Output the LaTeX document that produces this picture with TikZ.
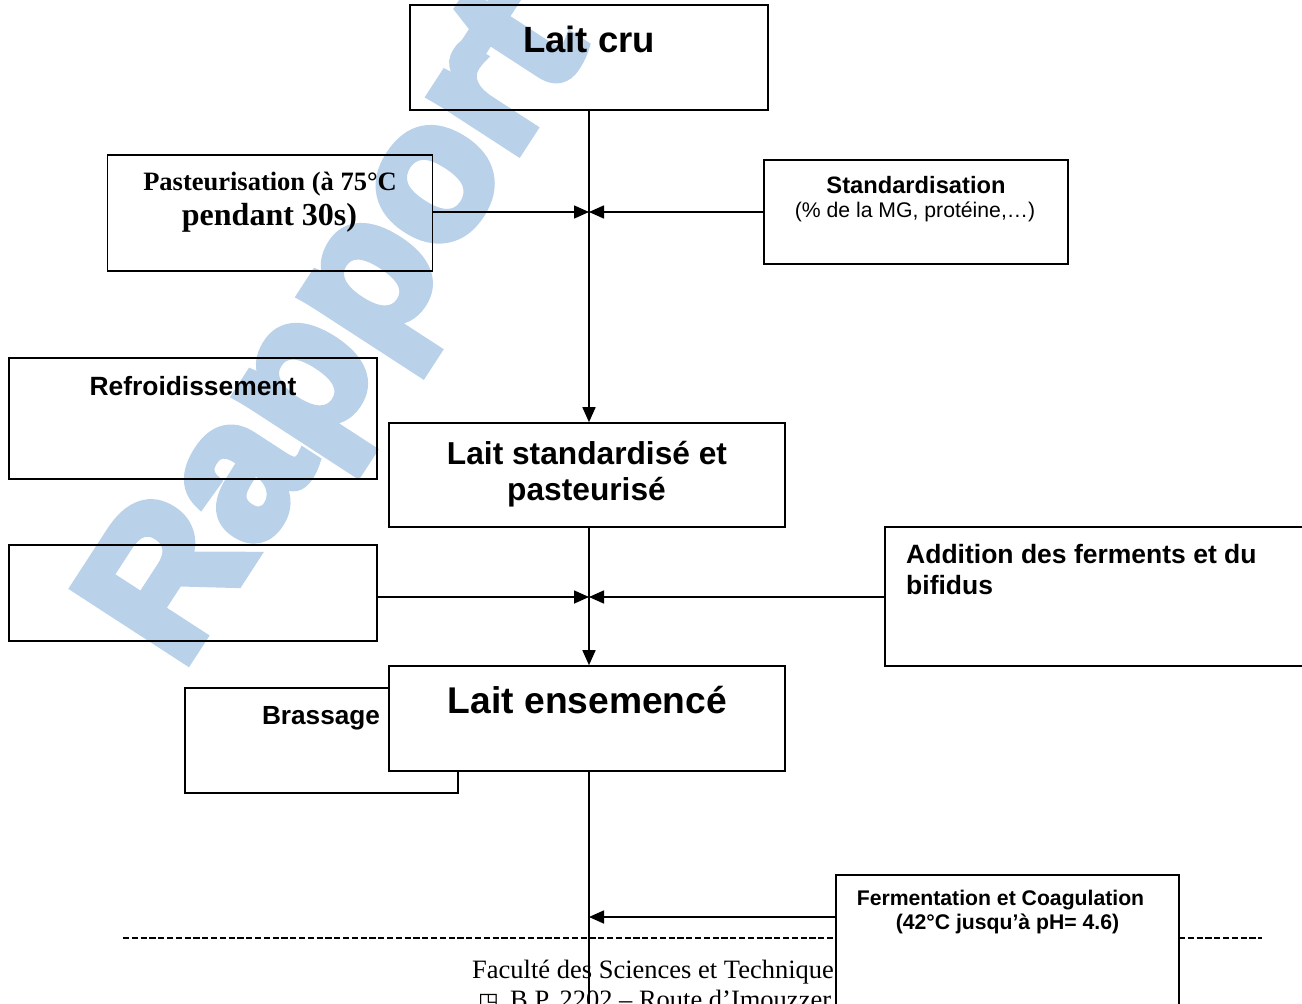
\documentclass[tikz,border=0pt]{standalone}
\usepackage{fontspec}
\setmainfont{Liberation Serif}
\setsansfont{Liberation Sans}
\newfontfamily\symbfont{DejaVu Sans}
\newfontfamily\wmfont{Liberation Sans}[BoldFeatures={FakeBold=5}]
\usetikzlibrary{arrows.meta}
\definecolor{filigrane}{RGB}{186,209,234}
\newcommand{\taille}[1]{\fontsize{#1}{#1}\selectfont}
\tikzset{
  boite/.style={draw, rectangle, line width=1.6pt, inner sep=0pt},
  txt/.style={inner sep=0pt, anchor=base, font=\sffamily\bfseries},
  fleche/.style={line width=1.6pt, -{Triangle[length=15pt,width=13pt]}},
  trait/.style={line width=1.6pt},
}
\begin{document}
\begin{tikzpicture}[x=1pt,y=-1pt]
      \useasboundingbox (0,0) rectangle (1302,1004);
      \clip (0,0) rectangle (1302,1004);
      \node[inner sep=0pt, anchor=base, rotate=57, text=filigrane,
        font=\wmfont\bfseries\taille{195}] (wm) at (384,358) {Rapport};
      \draw
        (589,57.5) node[boite, minimum width=358, minimum height=105] (cru){}
        (270,213) node[boite, minimum width=325, minimum height=116] (past){}
        (916,212) node[boite, minimum width=304, minimum height=104] (stdz){}
        (193,418.5) node[boite, minimum width=368, minimum height=121] (refr){}
        (587,475) node[boite, minimum width=396, minimum height=104] (std){}
        (193,593) node[boite, minimum width=368, minimum height=96] (vide){}
        (1102.5,596.5) node[boite, minimum width=435, minimum height=139] (add){}
        (321.5,740.5) node[boite, minimum width=273, minimum height=105] (bras){}
        (587,718.5) node[boite, fill=white, minimum width=396, minimum height=105] (ens){};
      \node[txt, font=\sffamily\bfseries\taille{36.5}] (cru-t) at (589,52) {Lait cru};
      \node[txt, font=\rmfamily\bfseries\taille{26.5}] (past-t) at (270,190) {Pasteurisation (à 75°C};
      \node[txt, font=\rmfamily\bfseries\taille{32}] (past-u) at (269.5,225) {pendant 30s)};
      \node[txt, font=\sffamily\bfseries\taille{23.7}] (stdz-t) at (916,193) {Standardisation};
      \node[txt, font=\sffamily\taille{21.2}] (stdz-u) at (915,217) {(\% de la MG, protéine,…)};
      \node[txt, font=\sffamily\bfseries\taille{26.4}] (refr-t) at (193,395) {Refroidissement};
      \node[txt, font=\sffamily\bfseries\taille{31.7}] (std-t) at (587,464) {Lait standardisé et};
      \node[txt, font=\sffamily\bfseries\taille{31.7}] (std-u) at (586.5,500) {pasteurisé};
      \node[txt, anchor=base west, font=\sffamily\bfseries\taille{26.5}] (add-t) at (906,563) {Addition des ferments et du};
      \node[txt, anchor=base west, font=\sffamily\bfseries\taille{26.5}] (add-u) at (906,594) {bifidus};
      \node[txt, font=\sffamily\bfseries\taille{26.2}] (bras-t) at (321,724) {Brassage};
      \node[txt, font=\sffamily\bfseries\taille{37.2}] (ens-t) at (587.5,713) {Lait ensemencé};
      \coordinate (j1) at (589,212);
      \coordinate (j2) at (589,597);
      \coordinate (j3) at (589,917);
      \coordinate (bas) at (589,1015);
      \begin{scope}[fleche]
        \draw (cru.south -| j1) -- (j1 |- std.north);
        \draw (past.east |- j1) -- (j1);
        \draw (stdz.west |- j1) -- (j1);
        \draw (std.south -| j2) -- (j2 |- ens.north);
        \draw (vide.east |- j2) -- (j2);
        \draw (add.west |- j2) -- (j2);
      \end{scope}
      \draw[line width=1.3pt, dash pattern=on 6.2pt off 2.6pt] (123,938) coordinate (pied-g) -- (1262,938) coordinate (pied-d);
      \node[inner sep=0pt, anchor=base west, font=\rmfamily\taille{26.5}] (pied-t) at (472,978) {Faculté des Sciences et Technique};
      \node[inner sep=0pt, anchor=base west, font=\symbfont\taille{22}] (pied-s) at (478,1008) {◳};
      \node[inner sep=0pt, anchor=base west, font=\rmfamily\taille{26.5}] (pied-u) at (510,1008) {B.P. 2202 – Route d’Imouzzer};
      \draw[trait] (ens.south -| j3) -- (bas);
      \draw (1007.5,952.5) node[boite, fill=white, minimum width=343, minimum height=155] (ferm){};
      \node[txt, font=\sffamily\bfseries\taille{21.2}] (ferm-t) at (1000.5,905) {Fermentation et Coagulation};
      \node[txt, font=\sffamily\bfseries\taille{21.2}] (ferm-u) at (1007.5,929) {(42°C jusqu’à pH= 4.6)};
      \draw[fleche] (ferm.west |- j3) -- (j3);
    \end{tikzpicture}
\end{document}
